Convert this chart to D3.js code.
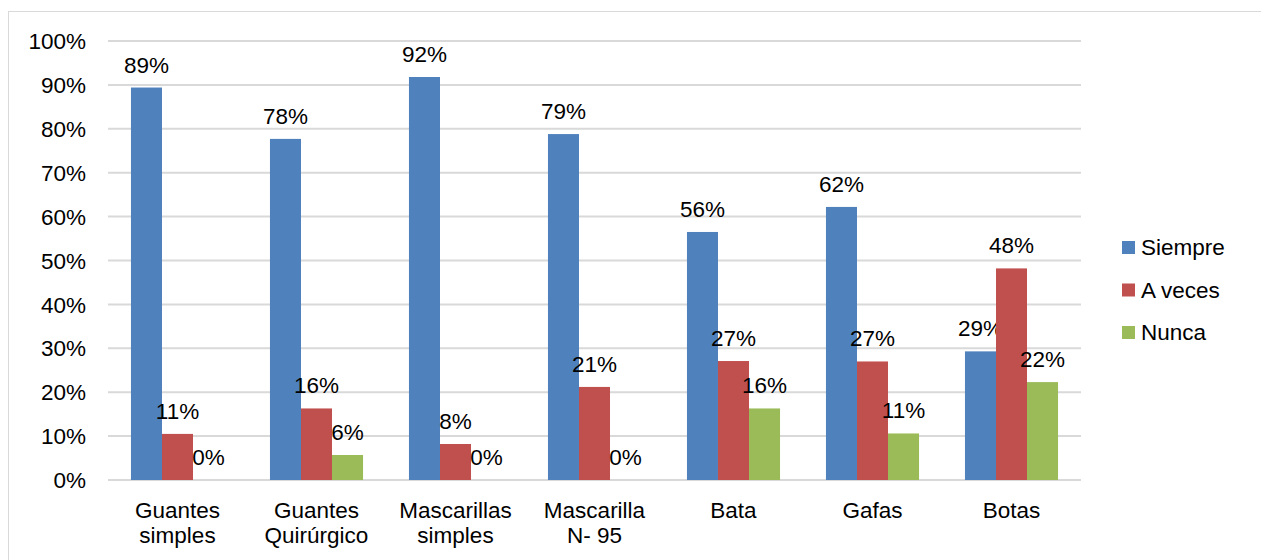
<!DOCTYPE html>
<html lang="es">
<head>
    <meta charset="UTF-8">
    <script src="https://d3js.org/d3.v7.min.js"></script>
    <title>Uso de equipo de protección</title>
    <style>
        body {
            margin: 0;
            background-color: #ffffff;
            font-family: Arial, "Liberation Sans", sans-serif;
        }
        text {
            fill: #000;
        }
    </style>
</head>
<body>
    <div id="chart"></div>

    <script>
        const width = 1261;
        const height = 560;
        const fontSize = "22.5px";

        // categorías y series
        const categories = [
            ["Guantes", "simples"],
            ["Guantes", "Quirúrgico"],
            ["Mascarillas", "simples"],
            ["Mascarilla", "N- 95"],
            ["Bata"],
            ["Gafas"],
            ["Botas"]
        ];
        const seriesNames = ["Siempre", "A veces", "Nunca"];
        const seriesColors = ["#4f81bd", "#c0504d", "#9bbb59"];

        const siempre = [0.894, 0.777, 0.918, 0.788, 0.565, 0.622, 0.293];
        const aVeces = [0.105, 0.163, 0.082, 0.212, 0.271, 0.270, 0.482];
        const nunca = [0, 0.057, 0, 0, 0.163, 0.106, 0.223];
        const yTicks = [0, 0.1, 0.2, 0.3, 0.4, 0.5, 0.6, 0.7, 0.8, 0.9, 1.0];

        const seriesValues = [siempre, aVeces, nunca];
        const catKeys = categories.map(c => c.join(" "));

        const svg = d3.select("#chart").append("svg")
            .attr("width", width)
            .attr("height", height);

        // borde exterior
        svg.append("rect")
            .attr("x", 8.5)
            .attr("y", 11.5)
            .attr("width", width + 10)
            .attr("height", height)
            .attr("fill", "none")
            .attr("stroke", "#d9d9d9")
            .attr("stroke-width", 1);

        const x = d3.scaleBand()
            .domain(catKeys)
            .range([108, 1081]);

        const xInner = d3.scaleBand()
            .domain(seriesNames)
            .range([0, x.bandwidth()])
            .paddingOuter(0.74)
            .paddingInner(0);

        const y = d3.scaleLinear()
            .domain([0, 1])
            .range([480, 41]);

        // líneas de cuadrícula
        svg.append("g")
            .selectAll("line")
            .data(yTicks)
            .enter()
            .append("line")
            .attr("x1", 108)
            .attr("x2", 1081)
            .attr("y1", d => y(d))
            .attr("y2", d => y(d))
            .attr("stroke", "#d9d9d9")
            .attr("stroke-width", 2);

        // etiquetas eje Y
        svg.append("g")
            .selectAll("text")
            .data(yTicks)
            .enter()
            .append("text")
            .attr("x", 86)
            .attr("y", d => y(d))
            .attr("dy", "0.36em")
            .attr("text-anchor", "end")
            .style("font-size", fontSize)
            .text(d => d3.format(".0%")(d));

        // barras
        const groups = svg.append("g")
            .selectAll("g")
            .data(seriesNames)
            .enter()
            .append("g");

        groups.each(function (name, si) {
            const g = d3.select(this);
            const vals = seriesValues[si];

            g.selectAll("rect")
                .data(vals)
                .enter()
                .append("rect")
                .attr("x", (d, i) => x(catKeys[i]) + xInner(name))
                .attr("y", d => y(d))
                .attr("width", xInner.bandwidth())
                .attr("height", d => y(0) - y(d))
                .attr("fill", seriesColors[si]);

            g.selectAll("text")
                .data(vals)
                .enter()
                .append("text")
                .attr("x", (d, i) => x(catKeys[i]) + xInner(name) + xInner.bandwidth() / 2)
                .attr("y", d => y(d) - 15)
                .attr("text-anchor", "middle")
                .style("font-size", fontSize)
                .text(d => d3.format(".0%")(d));
        });

        // etiquetas eje X
        const xLabels = svg.append("g")
            .selectAll("text")
            .data(categories)
            .enter()
            .append("text")
            .attr("x", (d, i) => x(catKeys[i]) + x.bandwidth() / 2)
            .attr("y", 518)
            .attr("text-anchor", "middle")
            .style("font-size", fontSize);

        xLabels.selectAll("tspan")
            .data(d => d)
            .enter()
            .append("tspan")
            .attr("x", function () { return d3.select(this.parentNode).attr("x"); })
            .attr("dy", (d, i) => i === 0 ? 0 : 25)
            .text(d => d);

        // leyenda
        const legend = svg.append("g")
            .selectAll("g")
            .data(seriesNames)
            .enter()
            .append("g")
            .attr("transform", (d, i) => `translate(1122, ${241 + i * 42.5})`);

        legend.append("rect")
            .attr("width", 13)
            .attr("height", 13)
            .attr("fill", (d, i) => seriesColors[i]);

        legend.append("text")
            .attr("x", 19)
            .attr("y", 14)
            .style("font-size", fontSize)
            .text(d => d);
    </script>
</body>
</html>
